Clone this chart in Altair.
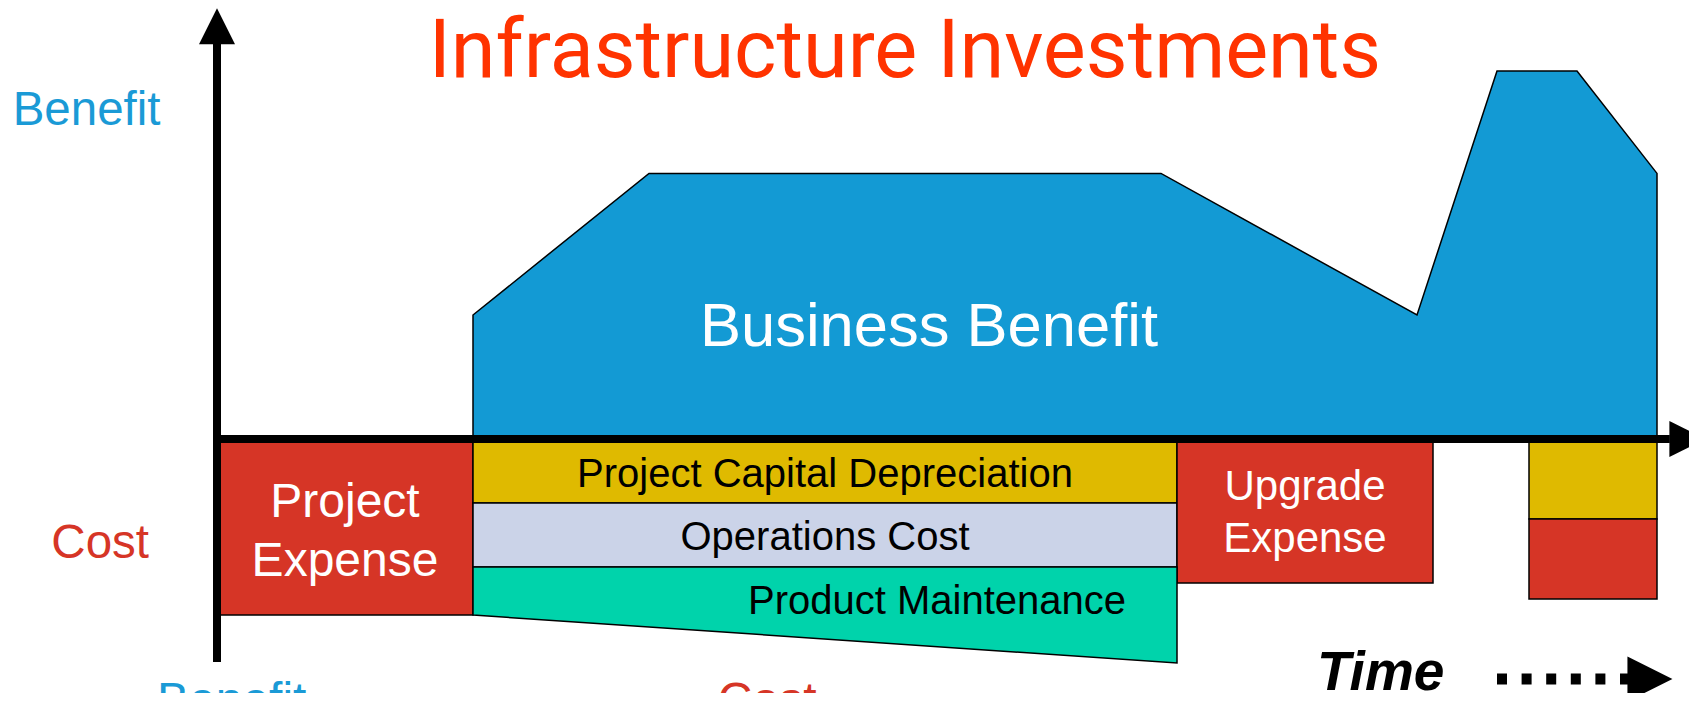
import altair as alt
import pandas as pd

# ---- data (time in months, value: benefit positive / cost negative) ----
benefit_t = [16, 27, 59, 75, 80, 85, 90]
benefit_v = [7.75, 16.6, 16.6, 7.75, 23, 23, 16.6]

block_name = ["Project Expense", "Project Capital Depreciation", "Operations Cost",
              "Upgrade Expense", "Later Depreciation", "Later Expense"]
block_kind = ["Expense", "Depreciation", "Operations", "Expense", "Depreciation", "Expense"]
block_start = [0, 16, 16, 60, 82, 82]
block_end = [16, 60, 60, 76, 90, 90]
block_top = [0, 0, -4, 0, 0, -5]
block_bottom = [-11, -4, -8, -9, -5, -10]

maint_t = [16, 60]
maint_top = [-8, -8]
maint_bottom = [-11, -14]

kinds = ["Benefit", "Expense", "Depreciation", "Operations", "Maintenance"]
kind_colors = ["#139AD4", "#D63526", "#DFBA00", "#CBD3E8", "#00D3AB"]

W, H = 1681, 685
xs = alt.Scale(domain=[-13.0625, 92.0], nice=False, zero=False)
ys = alt.Scale(domain=[-15.875, 26.9375], nice=False, zero=False)
cs = alt.Scale(domain=kinds, range=kind_colors)

benefit_df = pd.DataFrame({"t": benefit_t, "v": benefit_v, "kind": "Benefit"})
blocks_df = pd.DataFrame({"name": block_name, "kind": block_kind, "t0": block_start,
                          "t1": block_end, "v0": block_top, "v1": block_bottom})
maint_df = pd.DataFrame({"t": maint_t, "v0": maint_top, "v1": maint_bottom, "kind": "Maintenance"})

benefit = alt.Chart(benefit_df).mark_area(stroke="black", strokeWidth=1.5, interpolate="linear").encode(
    x=alt.X("t:Q", scale=xs, axis=None),
    y=alt.Y("v:Q", scale=ys, axis=None),
    y2=alt.datum(0),
    color=alt.Color("kind:N", scale=cs, legend=None),
)

blocks = alt.Chart(blocks_df).mark_rect(stroke="black", strokeWidth=1.5).encode(
    x=alt.X("t0:Q", scale=xs, axis=None), x2="t1:Q",
    y=alt.Y("v0:Q", scale=ys, axis=None), y2="v1:Q",
    color=alt.Color("kind:N", scale=cs, legend=None),
)

maint = alt.Chart(maint_df).mark_area(stroke="black", strokeWidth=1.5).encode(
    x=alt.X("t:Q", scale=xs, axis=None),
    y=alt.Y("v1:Q", scale=ys, axis=None), y2="v0:Q",
    color=alt.Color("kind:N", scale=cs, legend=None),
)

# ---- axes drawn as arrows ----
axis_df = pd.DataFrame({"t0": [0, -0.25], "t1": [0, 90.8], "v0": [24.7, 0], "v1": [-13.94, 0]})
yaxis = alt.Chart(axis_df.iloc[[0]]).mark_rule(color="black", strokeWidth=8, strokeCap="butt").encode(
    x=alt.X("t0:Q", scale=xs), y=alt.Y("v0:Q", scale=ys), y2="v1:Q")
xaxis = alt.Chart(axis_df.iloc[[1]]).mark_rule(color="black", strokeWidth=8, strokeCap="butt").encode(
    x=alt.X("t0:Q", scale=xs), x2="t1:Q", y=alt.Y("v0:Q", scale=ys))
up_head = alt.Chart(pd.DataFrame({"t": [0], "v": [25.8]})).mark_point(
    shape="M0,-1L1,1L-1,1Z", filled=True, color="black", opacity=1, size=36 * 36, strokeWidth=0).encode(
    x=alt.X("t:Q", scale=xs), y=alt.Y("v:Q", scale=ys))
right_head = alt.Chart(pd.DataFrame({"t": [91.9], "v": [0]})).mark_point(
    shape="M-1,-1L1,0L-1,1Z", filled=True, color="black", opacity=1, size=36 * 36, strokeWidth=0).encode(
    x=alt.X("t:Q", scale=xs), y=alt.Y("v:Q", scale=ys))

# time arrow (dotted)
dots = alt.Chart(pd.DataFrame({"t0": [80], "t1": [88.4], "v": [-15]})).mark_rule(
    color="black", strokeWidth=11, strokeDash=[10, 14.6], strokeCap="butt").encode(
    x=alt.X("t0:Q", scale=xs), x2="t1:Q", y=alt.Y("v:Q", scale=ys))
time_head = alt.Chart(pd.DataFrame({"t": [89.56], "v": [-15]})).mark_point(
    shape="M-1,-1L1,0L-1,1Z", filled=True, color="black", opacity=1, size=45 * 45, strokeWidth=0).encode(
    x=alt.X("t:Q", scale=xs), y=alt.Y("v:Q", scale=ys))


def label(rows, font="Liberation Sans", size=40, color="black", align="center", **kw):
    df = pd.DataFrame(rows, columns=["t", "v", "text"])
    return alt.Chart(df).mark_text(font=font, fontSize=size, color=color, align=align,
                                   baseline="alphabetic", **kw).encode(
        x=alt.X("t:Q", scale=xs), y=alt.Y("v:Q", scale=ys), text="text:N")


texts = [
    label([(43, 22.625, "Infrastructure Investments")], font="Roboto", size=81, color="#FF3300"),
    label([(-8.15, 19.625, "Benefit")], size=47.5, color="#1A9AD6"),
    label([(-7.3, -7.44, "Cost")], size=47.5, color="#D63526"),
    label([(44.5, 5.81, "Business Benefit")], size=61.5, color="white"),
    label([(8, -4.875, "Project"), (8, -8.56, "Expense")], size=48, color="white"),
    label([(68, -3.81, "Upgrade"), (68, -7.06, "Expense")], size=42, color="white"),
    label([(38, -3.0, "Project Capital Depreciation"), (38, -6.94, "Operations Cost"),
           (45, -10.94, "Product Maintenance")], size=40),
    label([(68.75, -15.69, "Time")], size=55, align="left", fontWeight="bold", fontStyle="italic"),
    label([(-3.75, -17.3, "Benefit")], size=48, color="#1A9AD6", align="left"),
    label([(31.3, -17.3, "Cost")], size=48, color="#D63526", align="left"),
]

chart = alt.layer(benefit, blocks, maint, yaxis, xaxis, up_head, right_head, dots, time_head, *texts).properties(
    width=W, height=H, padding=0, autosize=alt.AutoSizeParams(type="none"), background="white"
).configure_view(stroke=None)

chart.save("out.html", embed_options={"renderer": "svg", "actions": False})
